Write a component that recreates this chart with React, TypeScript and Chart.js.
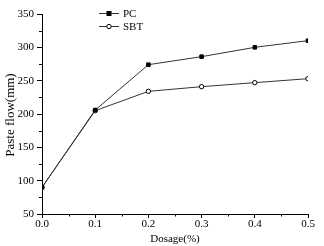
import React, { useEffect, useRef } from "react";
import { Chart, registerables } from "chart.js";
Chart.register(...registerables);

const dosage = [0.0, 0.1, 0.2, 0.3, 0.4, 0.5];
const pcFlow = [90, 206, 274, 286, 300, 310];
const sbtFlow = [90, 205, 234, 241, 247, 253];
const seriesNames = ["PC", "SBT"];
const xTitle = "Dosage(%)";
const yTitle = "Paste flow(mm)";

const FONT = "'Liberation Serif', 'Times New Roman', serif";
const LINE = "#333333";

const axesPlugin = {
  id: "axesExtras",
  afterDraw(chart: any) {
    const ctx = chart.ctx;
    const xs = chart.scales.x;
    const ys = chart.scales.y;
    const area = chart.chartArea;
    ctx.save();
    ctx.strokeStyle = "#000";
    ctx.lineWidth = 1;
    // minor ticks
    ctx.beginPath();
    for (let v = 0.05; v < 0.5; v += 0.1) {
      const px = Math.round(xs.getPixelForValue(v)) + 0.5;
      ctx.moveTo(px, area.bottom);
      ctx.lineTo(px, area.bottom + 2.5);
    }
    for (let v = 75; v < 350; v += 50) {
      const py = Math.round(ys.getPixelForValue(v)) + 0.5;
      ctx.moveTo(area.left, py);
      ctx.lineTo(area.left - 3, py);
    }
    ctx.stroke();
    // axis titles
    ctx.fillStyle = "#000";
    ctx.textAlign = "center";
    ctx.textBaseline = "middle";
    ctx.font = `11px ${FONT}`;
    ctx.fillText(xTitle, (area.left + area.right) / 2, 239);
    ctx.save();
    ctx.font = `13px ${FONT}`;
    ctx.translate(11, 115);
    ctx.rotate(-Math.PI / 2);
    ctx.fillText(yTitle, 0, 0);
    ctx.restore();
    // legend
    const items = [
      { name: seriesNames[0], y: 13, filled: true },
      { name: seriesNames[1], y: 26, filled: false },
    ];
    ctx.font = `11px ${FONT}`;
    ctx.textAlign = "left";
    for (const it of items) {
      ctx.strokeStyle = LINE;
      ctx.beginPath();
      ctx.moveTo(99, it.y + 0.5);
      ctx.lineTo(119, it.y + 0.5);
      ctx.stroke();
      if (it.filled) {
        ctx.fillStyle = "#000";
        ctx.fillRect(106.5, it.y - 2, 5, 5);
      } else {
        ctx.fillStyle = "#fff";
        ctx.beginPath();
        ctx.arc(109, it.y + 0.5, 2.2, 0, Math.PI * 2);
        ctx.fill();
        ctx.strokeStyle = "#000";
        ctx.stroke();
      }
      ctx.fillStyle = "#000";
      ctx.fillText(it.name, 123, it.y + 1);
    }
    ctx.restore();
  },
};

export default function App() {
  const ref = useRef<HTMLCanvasElement>(null);
  useEffect(() => {
    document.body.style.margin = "0";
    const chart = new Chart(ref.current!, {
      type: "line",
      data: {
        datasets: [
          {
            label: seriesNames[0],
            data: dosage.map((d, i) => ({ x: d, y: pcFlow[i] })),
            borderColor: LINE,
            borderWidth: 1,
            pointStyle: "rect",
            pointRadius: 2.5,
            pointBackgroundColor: "#000",
            pointBorderColor: "#000",
            pointBorderWidth: 1,
          },
          {
            label: seriesNames[1],
            data: dosage.map((d, i) => ({ x: d, y: sbtFlow[i] })),
            borderColor: LINE,
            borderWidth: 1,
            pointStyle: "circle",
            pointRadius: 2.2,
            pointBackgroundColor: "#fff",
            pointBorderColor: "#000",
            pointBorderWidth: 1,
          },
        ],
      },
      options: {
        animation: false,
        responsive: false,
        layout: { padding: { left: 0, right: 16, top: 14, bottom: 0 } },
        plugins: { legend: { display: false }, tooltip: { enabled: false } },
        scales: {
          x: {
            type: "linear",
            min: 0,
            max: 0.5,
            afterFit: (s: any) => { s.height = 32; },
            ticks: {
              stepSize: 0.1,
              color: "#000",
              font: { family: FONT, size: 11 },
              padding: 0,
              maxRotation: 0,
              callback: (v: any) => Number(v).toFixed(1),
            },
            grid: { display: true, drawOnChartArea: false, tickLength: 4, color: "#000" },
            border: { display: true, color: "#000", width: 1 },
          },
          y: {
            min: 50,
            max: 350,
            afterFit: (s: any) => { s.width = 42; },
            ticks: {
              stepSize: 50,
              color: "#000",
              font: { family: FONT, size: 11 },
              padding: 3,
            },
            grid: { display: true, drawOnChartArea: false, tickLength: 5, color: "#000" },
            border: { display: true, color: "#000", width: 1 },
          },
        },
      },
      plugins: [axesPlugin],
    } as any);
    return () => chart.destroy();
  }, []);
  return <canvas ref={ref} width={324} height={246} style={{ display: "block" }} />;
}
